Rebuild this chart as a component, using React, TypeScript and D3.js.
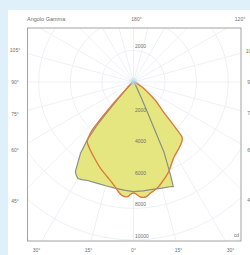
import React from 'react';
import * as d3 from 'd3';

const W = 250;
const H = 255;

// Gamma angles (deg from nadir) and intensities (cd) for each half-plane
const planeC0Gamma = [0, 5, 10, 15, 20, 20.8, 21.7, 23.5, 24.8, 26, 28, 32, 40, 60, 90, 180];
const planeC0Values = [6940, 6920, 6900, 6950, 7040, 7090, 6330, 4810, 2070, 1200, 600, 250, 100, 40, 20, 20];
const planeC180Gamma = [0, 5, 10, 15, 20, 25, 28, 30, 32, 33, 36.7, 38.6, 40.2, 41.5, 43, 45, 50, 60, 90, 180];
const planeC180Values = [6940, 6870, 6820, 6800, 6810, 6880, 7000, 7050, 6880, 6750, 5600, 4700, 3560, 2200, 1200, 700, 250, 80, 20, 20];
const planeC90Gamma = [0, 1, 3.5, 6, 8.7, 12.6, 17, 21.3, 27.8, 36.7, 41, 42.3, 45, 50, 54.7, 60, 70, 90, 180];
const planeC90Values = [7030, 7060, 7290, 7320, 7110, 6880, 6490, 6110, 5440, 4980, 4700, 4110, 2690, 1800, 1060, 600, 200, 50, 20];
const planeC270Gamma = [0, 1, 3, 5.7, 7.6, 10.8, 15.5, 20.9, 28, 34.6, 37.8, 39.3, 40.7, 41.3, 42, 43, 44, 45.5, 50, 60, 90, 180];
const planeC270Values = [7030, 7060, 7270, 7230, 7040, 6640, 6220, 5850, 5360, 4980, 4780, 4470, 4010, 3480, 2810, 1900, 1250, 720, 300, 100, 30, 20];

const gridRings = [2000, 4000, 6000, 8000, 10000, 12000, 14000];
const ringLabels = ['2000', '4000', '6000', '8000', '10000'];
const ringLabelValues = [2000, 4000, 6000, 8000, 10000];
const sideAngles = [105, 90, 75, 60, 45];
const sideLabels = ['105°', '90°', '75°', '60°', '45°'];
const bottomAngles = [-30, -15, 0, 15, 30];
const bottomLabels = ['30°', '15°', '0°', '15°', '30°'];
const title = 'Angolo Gamma';
const unit = 'cd';

export default function App() {
  const cx = 133.5;
  const cy = 82;
  const fx0 = 27.5, fy0 = 28, fx1 = 241, fy1 = 241;
  const r = d3.scaleLinear().domain([0, 10000]).range([0, 158]);
  const rad = Math.PI / 180;

  const toPts = (gR: number[], vR: number[], gL: number[], vL: number[]) => {
    const right = gR.map((g, i) => [Math.PI - g * rad, vR[i]] as [number, number]).reverse();
    const left = gL.map((g, i) => [Math.PI + g * rad, vL[i]] as [number, number]).slice(1);
    return [...right, ...left];
  };

  const grayLine = d3.lineRadial<[number, number]>()
    .angle(d => d[0]).radius(d => r(d[1])).curve(d3.curveLinearClosed);
  const orangeLine = d3.lineRadial<[number, number]>()
    .angle(d => d[0]).radius(d => r(d[1])).curve(d3.curveCatmullRomClosed.alpha(0.5));

  const grayPath = grayLine(toPts(planeC0Gamma, planeC0Values, planeC180Gamma, planeC180Values)) || '';
  const orangePath = orangeLine(toPts(planeC90Gamma, planeC90Values, planeC270Gamma, planeC270Values)) || '';

  const rays = d3.range(0, 360, 15);

  // label positions along rays to label box
  const lx0 = 15, lx1 = 251, ly1 = 250;
  const sidePos = (g: number, side: number) => {
    const dx = Math.sin(g * rad) * side;
    const dy = Math.cos(g * rad);
    let t = Math.abs((side > 0 ? lx1 - cx : cx - lx0) / dx);
    if (dy > 0) t = Math.min(t, (ly1 - cy) / dy);
    return [cx + dx * t, cy + dy * t];
  };

  const textStyle = { fontFamily: 'Liberation Sans, Arial, sans-serif', fontSize: 5, fill: '#707070' };

  return (
    <svg width={W} height={H} style={{ position: 'absolute', left: 0, top: 0 }}>
      <defs>
        <clipPath id="frame">
          <rect x={fx0} y={fy0} width={fx1 - fx0} height={fy1 - fy0} />
        </clipPath>
        <radialGradient id="glow">
          <stop offset="0%" stopColor="#a9dcf3" stopOpacity={1} />
          <stop offset="100%" stopColor="#a9dcf3" stopOpacity={0} />
        </radialGradient>
      </defs>
      <rect x={0} y={0} width={W} height={H} fill="#dff0fa" />
      <rect x={8} y={10} width={W} height={H} fill="#ffffff" />
      <g clipPath="url(#frame)">
        {gridRings.map(v => (
          <circle key={v} cx={cx} cy={cy} r={r(v)} fill="none" stroke="#e9eef2" strokeWidth={0.8} />
        ))}
        {rays.map(a => (
          <line key={a} x1={cx} y1={cy} x2={cx + 400 * Math.sin(a * rad)} y2={cy + 400 * Math.cos(a * rad)}
            stroke="#e9eef2" strokeWidth={0.8} />
        ))}
        <g transform={`translate(${cx},${cy})`}>
          <path d={grayPath} fill="#e5e67f" stroke="none" />
          <path d={orangePath} fill="#e5e67f" stroke="none" />
          <path d={grayPath} fill="none" stroke="#8b8f86" strokeWidth={1.2} strokeLinejoin="round" />
          <path d={orangePath} fill="none" stroke="#dc7b3e" strokeWidth={1.4} strokeLinejoin="round" />
        </g>
        <circle cx={cx} cy={cy} r={5} fill="url(#glow)" />
      </g>
      <rect x={fx0} y={fy0} width={fx1 - fx0} height={fy1 - fy0} fill="none" stroke="#a3a3a3" strokeWidth={1} />
      {ringLabelValues.map((v, i) => (
        <text key={'rl' + i} x={cx + 1.5} y={cy + r(v) - 2} style={textStyle}>{ringLabels[i]}</text>
      ))}
      <text x={cx + 1.5} y={cy - r(2000) - 2} style={textStyle}>{ringLabels[0]}</text>
      {sideAngles.map((g, i) => {
        const [x, y] = sidePos(g, -1);
        return <text key={'sl' + i} x={x} y={y} textAnchor="middle" dominantBaseline="central" style={textStyle}>{sideLabels[i]}</text>;
      })}
      {sideAngles.map((g, i) => {
        const [x, y] = sidePos(g, 1);
        return <text key={'sr' + i} x={x} y={y} textAnchor="middle" dominantBaseline="central" style={textStyle}>{sideLabels[i]}</text>;
      })}
      {bottomAngles.map((g, i) => {
        const [x, y] = sidePos(Math.abs(g), g < 0 ? -1 : 1);
        return <text key={'b' + i} x={x} y={y} textAnchor="middle" dominantBaseline="central" style={textStyle}>{bottomLabels[i]}</text>;
      })}
      <text x={cx + 3} y={19} textAnchor="middle" dominantBaseline="central" style={textStyle}>180°</text>
      <text x={240} y={19} textAnchor="middle" dominantBaseline="central" style={textStyle}>120°</text>
      <text x={27} y={19} dominantBaseline="central" style={{ ...textStyle, fontSize: 5.5 }}>{title}</text>
      <text x={fx1 - 2} y={fy1 - 4} textAnchor="end" style={textStyle}>{unit}</text>
    </svg>
  );
}
